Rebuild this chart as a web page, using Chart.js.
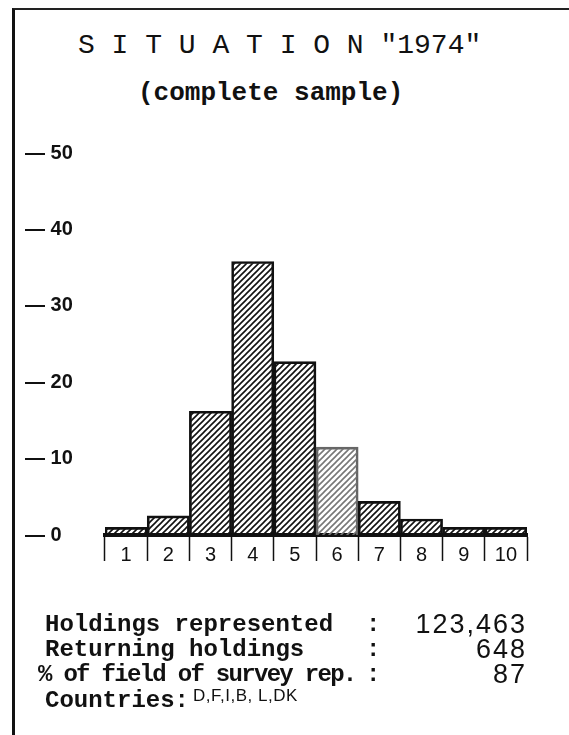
<!DOCTYPE html>
<html>
<head>
<meta charset="utf-8">
<title>Situation 1974</title>
<script src="https://cdn.jsdelivr.net/npm/chart.js@4.4.1/dist/chart.umd.min.js"></script>
<style>
  html, body { margin: 0; padding: 0; background: #fff; }
  body { position: relative; width: 569px; height: 735px; overflow: hidden; color: #111; }
  #frame {
    position: absolute; left: 12px; top: 8px; right: -4px; bottom: -4px;
    border-left: 3px solid #111; border-top: 2px solid #222;
  }
  #chart { position: absolute; left: 0; top: 0; }
  .head { position: absolute; white-space: pre; font-family: "Liberation Mono", "DejaVu Sans Mono", monospace; }
  #title { left: 78px; top: 30px; font-size: 28px; line-height: 32px; }
  #subtitle { left: 138px; top: 78px; font-size: 26px; line-height: 30px; font-weight: bold; }
  .row {
    position: absolute; left: 45px; width: 482px; height: 26px; line-height: 26px;
    font: bold 24px "Liberation Mono", "DejaVu Sans Mono", monospace; white-space: pre;
  }
  .row .tight { letter-spacing: -1.7px; margin-left: -7px; }
  .row .colon { position: absolute; left: 321px; top: 0; }
  .row .val {
    position: absolute; right: 0; top: -2px; letter-spacing: 2px;
    font: 27px "Liberation Sans", Arial, sans-serif;
  }
  .row .small {
    font: 17px "Liberation Sans Narrow", "Liberation Sans", sans-serif;
    vertical-align: 6px; margin-left: 4px; letter-spacing: 0.5px;
  }
</style>
</head>
<body>
<div id="frame"></div>
<div id="title" class="head">S I T U A T I O N "1974"</div>
<div id="subtitle" class="head">(complete sample)</div>
<canvas id="chart" width="569" height="735"></canvas>
<div id="stats"></div>
<script>
  // Share of holdings (%) per class, classes 1-10
  const classes = ['1', '2', '3', '4', '5', '6', '7', '8', '9', '10'];
  const shares = [1.0, 2.5, 16.2, 35.8, 22.7, 11.5, 4.4, 2.1, 1.0, 1.0];
  const yTicks = [0, 10, 20, 30, 40, 50];

  // Sample summary printed under the histogram
  const statLabels = ['Holdings represented', 'Returning holdings', '% of field of survey rep.'];
  const statValues = ['123,463', '648', '87'];
  const countries = ['D', 'F', 'I', 'B', ' L', 'DK'];

  const ROW_TOP = 611;
  const ROW_STEP = 25;

  const stats = document.getElementById('stats');
  statLabels.forEach((label, i) => {
    const row = document.createElement('div');
    row.className = 'row';
    row.style.top = (ROW_TOP + i * ROW_STEP) + 'px';
    row.innerHTML = '<span></span><span class="colon">:</span><span class="val"></span>';
    // the long third label was typed a bit tighter
    if (i === 2) row.children[0].className = 'tight';
    row.children[0].textContent = label;
    row.children[2].textContent = statValues[i];
    stats.appendChild(row);
  });
  const countryRow = document.createElement('div');
  countryRow.className = 'row';
  countryRow.style.top = (ROW_TOP + 3 * ROW_STEP) + 'px';
  countryRow.innerHTML = 'Countries:<span class="small"></span>';
  countryRow.querySelector('.small').textContent = countries.join(',');
  stats.appendChild(countryRow);

  // Diagonal "/" hatching
  function hatch(color) {
    const size = 6;
    const tile = document.createElement('canvas');
    tile.width = tile.height = size;
    const g = tile.getContext('2d');
    g.strokeStyle = color;
    g.lineWidth = 1.6;
    g.beginPath();
    g.moveTo(0, size); g.lineTo(size, 0);
    g.moveTo(-1, 1); g.lineTo(1, -1);
    g.moveTo(size - 1, size + 1); g.lineTo(size + 1, size - 1);
    g.stroke();
    return g.createPattern(tile, 'repeat');
  }

  const INK = '#111';
  const solid = hatch(INK);
  const faded = hatch('#777');

  new Chart(document.getElementById('chart'), {
    type: 'bar',
    data: {
      labels: classes,
      datasets: [{
        data: shares,
        // class 6 came out faint in print
        backgroundColor: shares.map((v, i) => (i === 5 ? faded : solid)),
        borderColor: shares.map((v, i) => (i === 5 ? '#666' : INK)),
        borderWidth: 2,
        borderSkipped: 'start',
        categoryPercentage: 1,
        barPercentage: 1,
      }],
    },
    options: {
      responsive: false,
      animation: false,
      layout: { padding: { left: 25, right: 42, top: 153, bottom: 160 } },
      plugins: { legend: { display: false }, tooltip: { enabled: false } },
      scales: {
        x: {
          grid: {
            offset: true,
            drawOnChartArea: false,
            drawTicks: true,
            tickLength: 26,
            tickWidth: 1.5,
            tickColor: INK,
          },
          border: { display: true, color: INK, width: 4 },
          ticks: {
            color: INK,
            padding: -18,
            font: { family: '"Liberation Sans", Arial, sans-serif', size: 20 },
          },
          afterFit: (scale) => { scale.height = 40; },
        },
        y: {
          min: yTicks[0],
          max: yTicks[yTicks.length - 1],
          grid: { display: false },
          border: { display: false },
          afterBuildTicks: (scale) => { scale.ticks = yTicks.map((v) => ({ value: v })); },
          ticks: {
            crossAlign: 'far',
            color: INK,
            padding: 0,
            font: { family: '"Liberation Sans", Arial, sans-serif', size: 20, weight: 'bold' },
            callback: (value) => '\u2014 ' + value,
          },
          afterFit: (scale) => { scale.width = 80; },
        },
      },
    },
  });
</script>
</body>
</html>
